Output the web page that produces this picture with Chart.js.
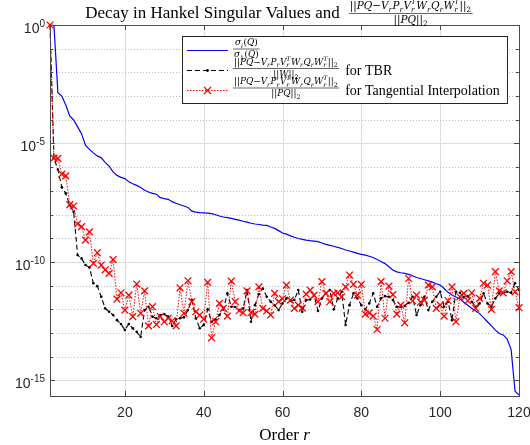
<!DOCTYPE html>
<html>
<head>
<meta charset="utf-8">
<script src="https://cdn.jsdelivr.net/npm/chart.js@4"></script>
<style>
  html, body { margin: 0; padding: 0; background: #fff; }
  canvas { display: block; }
</style>
</head>
<body>
<canvas id="chart" width="530" height="445"></canvas>
<script>
// order r = 1..120
const orders = Array.from({ length: 120 }, (_, i) => i + 1);

// sigma_i(Q) / sigma_1(Q)
const hankelRatio = [
  1, 0.95, 1.4e-3, 1.0e-3, 4.2e-4, 1.45e-4, 9.8e-5, 5.0e-5, 2.6e-5, 8.5e-6,
  5.6e-6, 4.0e-6, 3.0e-6, 2.5e-6, 1.6e-6, 1.1e-6, 6.3e-7, 4.5e-7, 3.7e-7, 3.3e-7,
  2.4e-7, 2.0e-7, 1.7e-7, 1.4e-7, 1.07e-7, 8.9e-8, 7.8e-8, 7.2e-8, 5.2e-8, 4.7e-8,
  4.4e-8, 3.5e-8, 3.0e-8, 2.6e-8, 2.3e-8, 2.0e-8, 1.4e-8, 1.26e-8, 1.2e-8, 1.17e-8,
  1.15e-8, 1.1e-8, 9.8e-9, 8.7e-9, 7.9e-9, 7.4e-9, 6.9e-9, 6.3e-9, 5.8e-9, 5.2e-9,
  4.8e-9, 4.3e-9, 4.0e-9, 3.8e-9, 3.6e-9, 3.5e-9, 3.0e-9, 2.6e-9, 2.1e-9, 1.66e-9,
  1.5e-9, 1.26e-9, 1.1e-9, 9.8e-10, 8.9e-10, 8.3e-10, 7.9e-10, 7.6e-10, 7.2e-10, 6.3e-10,
  5.5e-10, 5.0e-10, 4.6e-10, 4.1e-10, 3.7e-10, 3.2e-10, 2.9e-10, 2.6e-10, 2.3e-10, 2.1e-10,
  1.95e-10, 1.74e-10, 1.55e-10, 1.26e-10, 1.05e-10, 8.5e-11, 6.3e-11, 4.6e-11, 3.8e-11, 3.5e-11,
  3.3e-11, 3.0e-11, 2.6e-11, 2.2e-11, 2.0e-11, 1.78e-11, 1.58e-11, 1.41e-11, 1.2e-11, 1.05e-11,
  7.6e-12, 5.2e-12, 4.0e-12, 3.3e-12, 2.8e-12, 2.0e-12, 1.48e-12, 1.12e-12, 8.5e-13, 6.6e-13,
  4.5e-13, 3.0e-13, 2.0e-13, 1.32e-13, 9.5e-14, 8.3e-14, 5.6e-14, 2.0e-14, 3.5e-16, 2.4e-16
];

// relative error, TBR
const errTBR = [
  1, 2.4e-6, 7.9e-7, 1.41e-7, 7.9e-8, 2.5e-8, 1.32e-8, 1.95e-10, 1.41e-10, 7.4e-11,
  5.9e-11, 1.26e-11, 9.5e-12, 3.4e-12, 1.1e-12, 7.9e-13, 5.8e-13, 3.5e-13, 2.4e-13, 1.35e-13,
  2.4e-13, 1.58e-13, 1.12e-13, 6.9e-14, 9.3e-13, 1.29e-12, 4.9e-13, 4.2e-13, 5.8e-13, 6.3e-13,
  5.0e-13, 2.0e-13, 3.8e-13, 4.2e-13, 4.6e-13, 9.3e-13, 2.45e-12, 4.2e-13, 1.58e-13, 2.2e-13,
  1.0e-12, 3.0e-13, 3.8e-13, 5.8e-13, 1.0e-12, 4.7e-12, 1.29e-12, 1.26e-12, 9.3e-13, 1.1e-12,
  6.5e-12, 3.0e-13, 1.5e-12, 4.4e-12, 7.6e-12, 3.4e-12, 2.1e-12, 1.5e-12, 9.3e-13, 1.78e-12,
  2.9e-12, 2.3e-12, 2.5e-12, 6.5e-12, 7.9e-13, 2.45e-12, 2.6e-12, 4.0e-12, 8.7e-13, 2.9e-12,
  4.7e-12, 6.5e-12, 1.0e-12, 2.9e-12, 5.5e-12, 2.2e-13, 1.5e-12, 4.7e-12, 2.9e-12, 1.5e-12,
  1.0e-12, 1.78e-12, 4.7e-12, 1.29e-12, 2.9e-12, 3.6e-12, 3.4e-12, 2.45e-12, 1.29e-12, 1.29e-12,
  1.41e-12, 1.9e-12, 3.4e-12, 5.8e-13, 1.5e-12, 3.4e-12, 9.3e-13, 2.1e-12, 3.4e-12, 5.5e-12,
  1.29e-12, 2.1e-12, 3.5e-13, 5.5e-12, 5.0e-12, 3.2e-12, 3.6e-12, 2.1e-12, 1.29e-12, 1.78e-12,
  4.7e-12, 1.78e-12, 1.29e-12, 2.9e-12, 4.7e-12, 5.0e-12, 5.5e-12, 5.0e-12, 1.26e-11, 6.5e-12
];

// relative error, tangential interpolation
const errTangential = [
  1, 2.4e-6, 2.35e-6, 5.1e-7, 4.3e-7, 2.6e-8, 2.3e-8, 4.0e-9, 3.1e-9, 8.3e-10,
  1.86e-9, 8.7e-11, 2.45e-10, 7.4e-11, 4.6e-11, 3.3e-11, 1.26e-10, 2.7e-12, 5.0e-12, 9.3e-13,
  4.0e-12, 4.9e-13, 1.17e-11, 6.8e-13, 6.0e-12, 2.0e-13, 1.29e-12, 2.3e-13, 4.9e-13, 3.0e-13,
  4.2e-13, 3.3e-13, 2.0e-13, 8.1e-12, 6.8e-13, 1.6e-11, 2.1e-12, 7.9e-13, 5.8e-13, 3.9e-13,
  1.38e-11, 6.3e-14, 3.0e-13, 1.78e-12, 1.1e-12, 5.2e-13, 1.55e-11, 2.1e-12, 8.7e-13, 7.2e-13,
  6.0e-12, 7.2e-13, 6.3e-13, 8.9e-12, 1.1e-12, 8.5e-13, 5.8e-13, 4.7e-12, 2.1e-12, 2.8e-12,
  1.05e-11, 2.45e-12, 1.1e-12, 1.5e-12, 1.12e-12, 4.4e-12, 6.5e-12, 4.0e-12, 2.1e-12, 1.48e-11,
  4.7e-12, 2.1e-12, 4.7e-12, 5.0e-12, 3.4e-12, 8.9e-12, 2.8e-11, 1.12e-11, 4.0e-12, 1.12e-11,
  6.3e-13, 7.1e-13, 5.2e-13, 1.41e-13, 1.48e-11, 4.2e-13, 9.5e-12, 4.2e-12, 6.3e-13, 1.5e-12,
  2.7e-13, 2.0e-11, 2.3e-12, 4.0e-12, 2.0e-12, 2.45e-12, 1.05e-11, 8.9e-12, 1.1e-12, 1.5e-12,
  5.2e-13, 2.3e-12, 8.9e-12, 3.0e-13, 3.4e-12, 4.7e-12, 2.3e-12, 5.0e-12, 1.1e-12, 2.9e-12,
  1.26e-11, 1.05e-11, 1.0e-12, 3.9e-11, 6.0e-12, 5.0e-12, 1.6e-11, 3.9e-11, 5.5e-12, 1.17e-12
];

const xTicks = [20, 40, 60, 80, 100, 120];
const yDecades = [1e0, 1e-1, 1e-2, 1e-3, 1e-4, 1e-5, 1e-6, 1e-7, 1e-8, 1e-9,
                  1e-10, 1e-11, 1e-12, 1e-13, 1e-14, 1e-15];
const yMajor = [1e0, 1e-5, 1e-10, 1e-15];
const yMajorExp = ['0', '-5', '-10', '-15'];
const yMin = 2.2e-16;

const SERIF = '"Liberation Serif", "DejaVu Serif", serif';
const MATH = '"DejaVu Serif", "Liberation Serif", serif';
const SANS = '"Liberation Sans", Arial, sans-serif';

// tiny math-ish text: parts {t, i(talic), b(sub), p(sup)}
function mathRun(ctx, parts, size, x, y, draw) {
  let cx = x;
  const sm = size * 0.7;
  for (const p of parts) {
    ctx.font = (p.i ? 'italic ' : '') + size + 'px ' + MATH;
    if (draw) ctx.fillText(p.t, cx, y);
    cx += ctx.measureText(p.t).width;
    let sw = 0;
    for (const [s, dy] of [[p.b, size * 0.3], [p.p, -size * 0.45]]) {
      if (s === undefined) continue;
      ctx.font = (/[0-9]/.test(s) ? '' : 'italic ') + sm + 'px ' + MATH;
      if (draw) ctx.fillText(s, cx, y + dy);
      sw = Math.max(sw, ctx.measureText(s).width);
    }
    cx += sw ? sw + size * 0.05 : 0;
  }
  return cx - x;
}

function drawFrac(ctx, num, den, size, x, barY) {
  const wn = mathRun(ctx, num, size, 0, 0, false);
  const wd = mathRun(ctx, den, size, 0, 0, false);
  const w = Math.max(wn, wd) + 2;
  mathRun(ctx, num, size, x + (w - wn) / 2, barY - size * 0.42, true);
  mathRun(ctx, den, size, x + (w - wd) / 2, barY + size * 0.92, true);
  ctx.save();
  ctx.strokeStyle = '#000';
  ctx.lineWidth = 0.6;
  ctx.beginPath();
  ctx.moveTo(x, barY);
  ctx.lineTo(x + w, barY);
  ctx.stroke();
  ctx.restore();
  return w;
}

const errNum = [
  { t: '||' }, { t: 'PQ', i: 1 }, { t: '\u2212' },
  { t: 'V', i: 1, b: 'r' }, { t: 'P', i: 1, b: 'r' }, { t: 'V', i: 1, b: 'r', p: 'T' },
  { t: 'W', i: 1, b: 'r' }, { t: 'Q', i: 1, b: 'r' }, { t: 'W', i: 1, b: 'r', p: 'T' },
  { t: '||', b: '2' }
];
const pqDen = [{ t: '||' }, { t: 'PQ', i: 1 }, { t: '||', b: '2' }];
const wDen = [{ t: '||' }, { t: 'W', i: 1 }, { t: '||', b: '2' }];
const sigNum = [{ t: '\u03c3', i: 1, b: 'i' }, { t: '(' }, { t: 'Q', i: 1 }, { t: ')' }];
const sigDen = [{ t: '\u03c3', i: 1, b: '1' }, { t: '(' }, { t: 'Q', i: 1 }, { t: ')' }];

function drawMarkerX(ctx, x, y, r) {
  ctx.beginPath();
  ctx.moveTo(x - r, y - r); ctx.lineTo(x + r, y + r);
  ctx.moveTo(x - r, y + r); ctx.lineTo(x + r, y - r);
  ctx.stroke();
}

const decor = {
  id: 'decor',
  beforeDatasetsDraw(chart) {
    const { ctx, chartArea: a, scales: { x, y } } = chart;
    ctx.save();
    ctx.lineWidth = 1;
    // vertical grid
    ctx.strokeStyle = '#dcdcdc';
    xTicks.forEach(v => {
      const px = Math.round(x.getPixelForValue(v)) + 0.5;
      ctx.beginPath(); ctx.moveTo(px, a.top); ctx.lineTo(px, a.bottom); ctx.stroke();
    });
    // horizontal grid: solid at labelled decades, dotted elsewhere
    yDecades.forEach(v => {
      const py = Math.round(y.getPixelForValue(v)) + 0.5;
      const major = yMajor.includes(v);
      ctx.strokeStyle = major ? '#dcdcdc' : '#bdbdbd';
      ctx.setLineDash(major ? [] : [1, 2]);
      ctx.beginPath(); ctx.moveTo(a.left, py); ctx.lineTo(a.right, py); ctx.stroke();
    });
    ctx.restore();
  },
  afterDatasetsDraw(chart) {
    const { ctx, chartArea: a, scales: { x, y } } = chart;
    const ds = chart.data.datasets;
    ctx.save();
    // axes box and ticks
    ctx.strokeStyle = '#4a4a4a';
    ctx.lineWidth = 1;
    ctx.strokeRect(Math.round(a.left) + 0.5, Math.round(a.top) + 0.5,
                   Math.round(a.right - a.left), Math.round(a.bottom - a.top));
    ctx.beginPath();
    xTicks.forEach(v => {
      const px = Math.round(x.getPixelForValue(v)) + 0.5;
      ctx.moveTo(px, a.bottom); ctx.lineTo(px, a.bottom - 5);
      ctx.moveTo(px, a.top); ctx.lineTo(px, a.top + 5);
    });
    yDecades.forEach(v => {
      const py = Math.round(y.getPixelForValue(v)) + 0.5;
      const len = yMajor.includes(v) ? 5 : 3;
      ctx.moveTo(a.left, py); ctx.lineTo(a.left + len, py);
      ctx.moveTo(a.right, py); ctx.lineTo(a.right - len, py);
    });
    ctx.stroke();

    // tick labels
    ctx.fillStyle = '#262626';
    ctx.textBaseline = 'alphabetic';
    ctx.textAlign = 'center';
    ctx.font = '14px ' + SANS;
    xTicks.forEach(v => ctx.fillText(String(v), x.getPixelForValue(v), a.bottom + 21));
    ctx.textAlign = 'right';
    yMajor.forEach((v, i) => {
      const py = y.getPixelForValue(v);
      ctx.font = '10px ' + SANS;
      const ws = ctx.measureText(yMajorExp[i]).width;
      ctx.fillText(yMajorExp[i], a.left - 5, py + 2);
      ctx.font = '14px ' + SANS;
      ctx.fillText('10', a.left - 5 - ws, py + 8);
    });

    // x axis title
    ctx.fillStyle = '#000';
    ctx.textAlign = 'left';
    ctx.font = '17px ' + SERIF;
    const w1 = ctx.measureText('Order ').width;
    ctx.font = 'italic 17px ' + SERIF;
    const w2 = ctx.measureText('r').width;
    const xc = (a.left + a.right) / 2;
    ctx.font = '17px ' + SERIF;
    ctx.fillText('Order ', xc - (w1 + w2) / 2, 439.5);
    ctx.font = 'italic 17px ' + SERIF;
    ctx.fillText('r', xc - (w1 + w2) / 2 + w1, 439.5);

    // title with fraction
    const tText = 'Decay in Hankel Singular Values and';
    ctx.font = '17px ' + SERIF;
    const tw = ctx.measureText(tText).width;
    const fs = 10.4;
    const fw = Math.max(mathRun(ctx, errNum, fs, 0, 0, false), mathRun(ctx, pqDen, fs, 0, 0, false)) + 2;
    const tx = 279 - (tw + 9 + fw) / 2;
    ctx.font = '17px ' + SERIF;
    ctx.fillText(tText, tx, 17.5);
    drawFrac(ctx, errNum, pqDen, fs, tx + tw + 9, 13.5);

    // legend
    const L = { x: 182, y: 36, w: 325, h: 67 };
    ctx.fillStyle = '#fff';
    ctx.fillRect(L.x, L.y, L.w, L.h);
    ctx.strokeStyle = '#262626';
    ctx.lineWidth = 1;
    ctx.strokeRect(L.x + 0.5, L.y + 0.5, L.w, L.h);
    const rows = [50, 70, 90];
    const sx0 = 187, sx1 = 228, sxm = 207.5;
    rows.forEach((ly, i) => {
      const d = ds[i];
      ctx.strokeStyle = d.borderColor;
      ctx.lineWidth = d.borderWidth;
      ctx.setLineDash(d.borderDash || []);
      ctx.beginPath(); ctx.moveTo(sx0, ly + 0.5); ctx.lineTo(sx1, ly + 0.5); ctx.stroke();
      ctx.setLineDash([]);
      if (i === 1) {
        ctx.fillStyle = '#000';
        ctx.beginPath(); ctx.arc(sxm, ly + 0.5, 1.4, 0, Math.PI * 2); ctx.fill();
      }
      if (i === 2) {
        ctx.lineWidth = d.pointBorderWidth;
        drawMarkerX(ctx, sxm, ly + 0.5, 3.5);
      }
    });
    ctx.fillStyle = '#000';
    const ls = 8.9;
    drawFrac(ctx, sigNum, sigDen, ls, 233, 49);
    const f2 = drawFrac(ctx, errNum, wDen, ls, 233, 68.5);
    const f3 = drawFrac(ctx, errNum, pqDen, ls, 233, 88);
    ctx.font = '14px ' + SERIF;
    ctx.textAlign = 'left';
    ctx.fillText('for TBR', 233 + f2 + 6, 75);
    ctx.fillText('for Tangential Interpolation', 233 + f3 + 6, 95);
    ctx.restore();
  }
};

const ctx = document.getElementById('chart').getContext('2d');
const myChart = new Chart(ctx, {
  type: 'line',
  data: {
    labels: orders,
    datasets: [
      {
        label: 'sigma ratio',
        data: hankelRatio,
        borderColor: '#0000ff',
        borderWidth: 1.2,
        pointRadius: 0,
        order: 3,
        clip: false
      },
      {
        label: 'TBR',
        data: errTBR,
        borderColor: '#000000',
        borderWidth: 1.1,
        borderDash: [5, 3],
        pointRadius: 1.3,
        pointBackgroundColor: '#000000',
        pointBorderWidth: 0,
        order: 2,
        clip: false
      },
      {
        label: 'Tangential Interpolation',
        data: errTangential,
        borderColor: '#ff0000',
        borderWidth: 1,
        borderDash: [1.5, 1.5],
        pointStyle: 'crossRot',
        pointRadius: 4.8,
        pointBorderColor: '#ff0000',
        pointBorderWidth: 1.3,
        order: 1,
        clip: false
      }
    ]
  },
  options: {
    responsive: false,
    animation: false,
    devicePixelRatio: 1,
    layout: { padding: { left: 50, right: 11, top: 25, bottom: 49 } },
    plugins: {
      legend: { display: false },
      title: { display: false },
      tooltip: { enabled: false }
    },
    scales: {
      x: { type: 'linear', min: 1, max: 120, display: false },
      y: { type: 'logarithmic', min: yMin, max: 1, display: false }
    },
    elements: { line: { tension: 0 } }
  },
  plugins: [decor]
});
</script>
</body>
</html>
